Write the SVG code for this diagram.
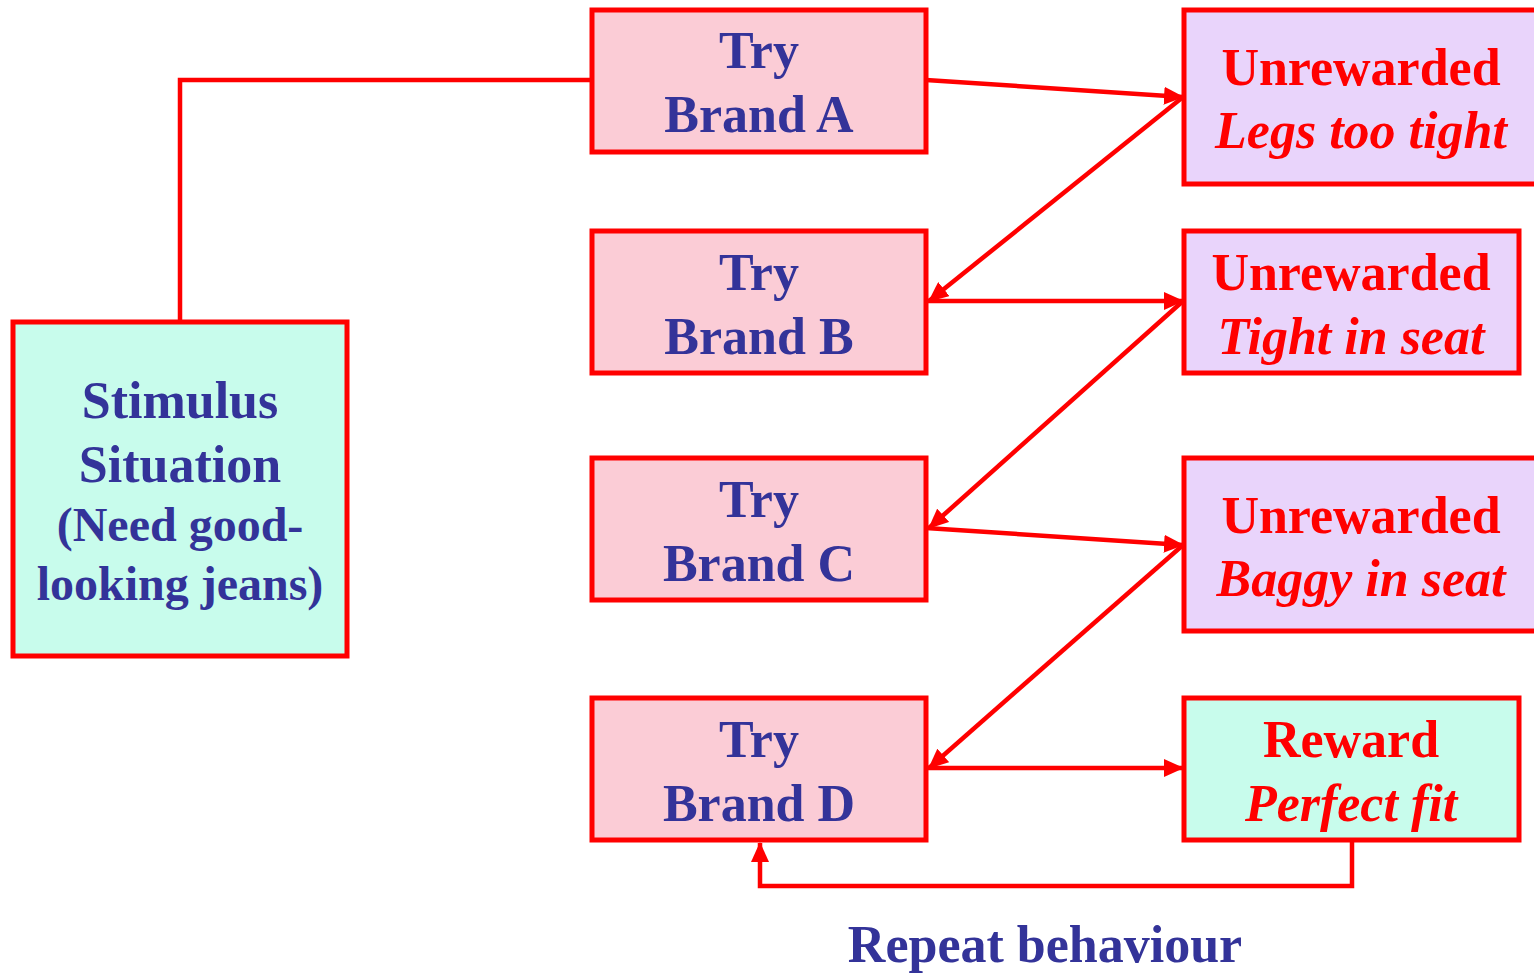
<svg xmlns="http://www.w3.org/2000/svg" width="1534" height="973" viewBox="0 0 1534 973">
<defs>
<style>
.box{stroke:#FF0000;stroke-width:5}
.try{fill:#FBCCD6}
.unr{fill:#E9D4FB}
.mint{fill:#C8FCEC}
.t{font-family:"Liberation Serif","Times New Roman",serif;font-weight:bold;font-size:52px;text-anchor:middle}
.s{font-size:48px}
.blue{fill:#333399}
.red{fill:#FF0000}
.it{font-style:italic}
.c{fill:none;stroke:#FF0000;stroke-width:4.5}
</style>
<marker id="ah" markerUnits="userSpaceOnUse" markerWidth="20" markerHeight="18" refX="19" refY="9" orient="auto">
<path d="M0,0 L20,9 L0,18 Z" fill="#FF0000"/>
</marker>
</defs>
<rect width="1534" height="973" fill="#FFFFFF"/>
<g id="connectors">
<polyline class="c" points="592,80 180,80 180,322"/>
<line class="c" x1="926" y1="80" x2="1183" y2="97" marker-end="url(#ah)"/>
<line class="c" x1="1183" y1="97" x2="929" y2="301" marker-end="url(#ah)"/>
<line class="c" x1="926" y1="301" x2="1183" y2="301" marker-end="url(#ah)"/>
<line class="c" x1="1183" y1="301" x2="929" y2="528" marker-end="url(#ah)"/>
<line class="c" x1="926" y1="528" x2="1183" y2="545" marker-end="url(#ah)"/>
<line class="c" x1="1183" y1="545" x2="929" y2="768" marker-end="url(#ah)"/>
<line class="c" x1="926" y1="768" x2="1183" y2="768" marker-end="url(#ah)"/>
<polyline class="c" points="1352,840 1352,886 760,886 760,843" marker-end="url(#ah)"/>
</g>
<g id="stimulus">
<rect class="box mint" x="13" y="322" width="334" height="334"/>
<text class="t blue" x="180" y="418">Stimulus</text>
<text class="t blue" x="180" y="482">Situation</text>
<text class="t s blue" x="180" y="541">(Need good-</text>
<text class="t s blue" x="180" y="600">looking jeans)</text>
</g>
<g id="brandA">
<rect class="box try" x="592" y="10" width="334" height="142"/>
<text class="t blue" x="759" y="68">Try</text>
<text class="t blue" x="759" y="132">Brand A</text>
</g>
<g id="brandB">
<rect class="box try" x="592" y="231" width="334" height="142"/>
<text class="t blue" x="759" y="290">Try</text>
<text class="t blue" x="759" y="354">Brand B</text>
</g>
<g id="brandC">
<rect class="box try" x="592" y="458" width="334" height="142"/>
<text class="t blue" x="759" y="517">Try</text>
<text class="t blue" x="759" y="581">Brand C</text>
</g>
<g id="brandD">
<rect class="box try" x="592" y="698" width="334" height="142"/>
<text class="t blue" x="759" y="757">Try</text>
<text class="t blue" x="759" y="821">Brand D</text>
</g>
<g id="unrewardedA">
<rect class="box unr" x="1184" y="10" width="356" height="174"/>
<text class="t red" x="1361" y="85">Unrewarded</text>
<text class="t red it" x="1361" y="148">Legs too tight</text>
</g>
<g id="unrewardedB">
<rect class="box unr" x="1184" y="231" width="335" height="142"/>
<text class="t red" x="1351" y="290">Unrewarded</text>
<text class="t red it" x="1351" y="354">Tight in seat</text>
</g>
<g id="unrewardedC">
<rect class="box unr" x="1184" y="458" width="356" height="173"/>
<text class="t red" x="1361" y="533">Unrewarded</text>
<text class="t red it" x="1361" y="596">Baggy in seat</text>
</g>
<g id="reward">
<rect class="box mint" x="1184" y="698" width="335" height="142"/>
<text class="t red" x="1351" y="757">Reward</text>
<text class="t red it" x="1351" y="821">Perfect fit</text>
</g>
<g id="label">
<text class="t blue" x="1045" y="962">Repeat behaviour</text>
</g>
</svg>
